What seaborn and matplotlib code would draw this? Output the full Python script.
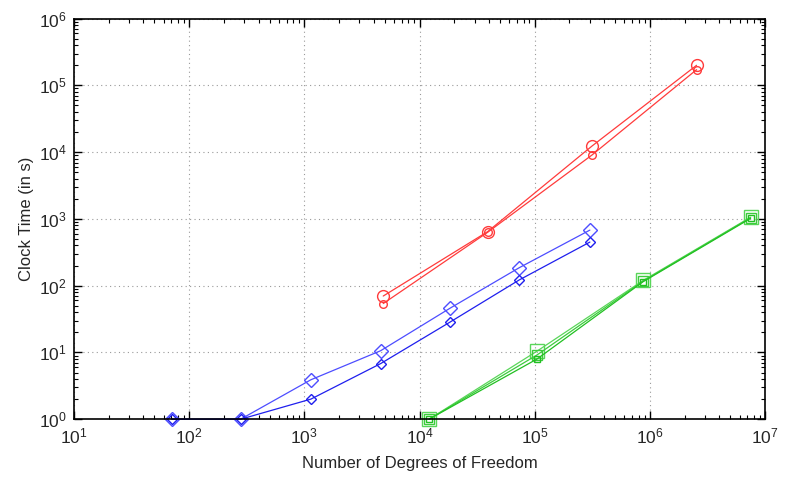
import numpy as np
import pandas as pd
import seaborn as sns
import matplotlib
matplotlib.use("Agg")
from matplotlib import pyplot as plt
from matplotlib.ticker import LogLocator, NullFormatter

# degrees of freedom / clock time
blue_x = [71, 280, 1140, 4590, 18400, 73400, 301000]
blue_big_y = [1, 1, 3.9, 10.6, 46, 186, 680]
blue_small_y = [1, 1, 2.0, 6.8, 28.5, 122, 450]

red_x = [4840, 39000, 315000, 2540000]
red_big_y = [70, 645, 12400, 200000]
red_small_y = [54, 630, 9100, 172000]

green_x = [12100, 105000, 875000, 7480000]
green_a_y = [1, 10.5, 120, 1060]
green_b_y = [1, 9.2, 117, 1040]
green_c_y = [1, 8.0, 115, 1020]

sns.set_style("ticks")
plt.rcParams['font.family'] = ['Liberation Sans', 'DejaVu Sans']
plt.rcParams['mathtext.default'] = 'regular'

fig = plt.figure(figsize=(7.97, 4.78), dpi=100)
ax = fig.add_axes([0.0928, 0.123, 0.8672, 0.838])

series = [
    (blue_x, blue_big_y, '#4d4dff', 'D', 7.5),
    (blue_x, blue_small_y, '#1f1fee', 'D', 5),
    (red_x, red_big_y, '#ff3b3b', 'o', 8.5),
    (red_x, red_small_y, '#ff3b3b', 'o', 5.5),
    (green_x, green_a_y, '#5ad65a', 's', 10),
    (green_x, green_b_y, '#3ccc3c', 's', 7),
    (green_x, green_c_y, '#22c022', 's', 4.5),
]
for xs, ys, col, mk, ms in series:
    df = pd.DataFrame({"dof": xs, "t": ys})
    sns.lineplot(data=df, x="dof", y="t", ax=ax, color=col, lw=0.9,
                 marker=mk, markersize=ms, markerfacecolor='none',
                 markeredgecolor=col, markeredgewidth=1.0,
                 estimator=None, clip_on=False)

ax.set_xscale('log')
ax.set_yscale('log')
ax.set_xlim(10, 1e7)
ax.set_ylim(1, 1e6)
ax.xaxis.set_major_locator(LogLocator(base=10, numticks=10))
ax.yaxis.set_major_locator(LogLocator(base=10, numticks=10))
ax.xaxis.set_minor_locator(LogLocator(base=10, subs=np.arange(2, 10), numticks=20))
ax.yaxis.set_minor_locator(LogLocator(base=10, subs=np.arange(2, 10), numticks=20))
ax.xaxis.set_minor_formatter(NullFormatter())
ax.yaxis.set_minor_formatter(NullFormatter())

ax.grid(True, which='major', color='#999999', linestyle=(0, (1, 3)), lw=0.8)
ax.tick_params(which='both', direction='in', top=True, right=True, color='black')
ax.tick_params(which='major', length=6, width=1.0, labelsize=12.5, pad=5)
ax.tick_params(which='minor', length=3, width=0.8)
for sp in ax.spines.values():
    sp.set_linewidth(1.2)
    sp.set_color('black')

ax.set_xlabel("Number of Degrees of Freedom", fontsize=12, labelpad=7)
ax.set_ylabel("Clock Time (in s)", fontsize=12, labelpad=4)

fig.savefig("out.png", dpi=100)
